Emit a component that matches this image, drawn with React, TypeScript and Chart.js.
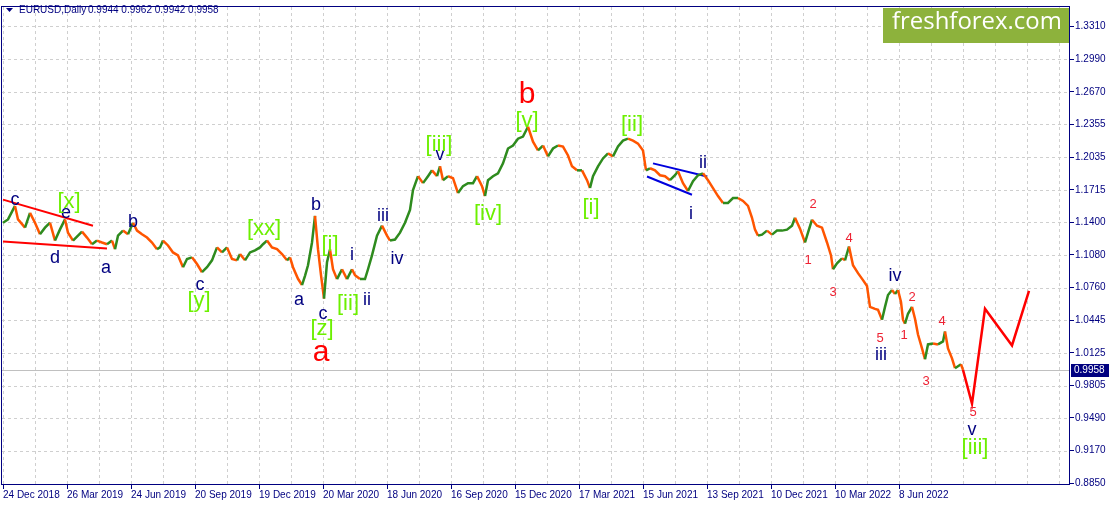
import React, { useEffect, useRef } from 'react';
import { Chart, registerables } from 'chart.js';

Chart.register(...registerables);

const NAVY = '#000080';
const UP = '#2e8b1e';
const DOWN = '#ff5500';
const LIME = '#6cf000';
const RED = '#ff0000';
const SMALLRED = '#ee2233';
const FONT = '"Liberation Sans", Arial, sans-serif';

// x axis: bar index (one daily bar each), date labels every 64 bars
const dateLabels = [
  '24 Dec 2018', '26 Mar 2019', '24 Jun 2019', '20 Sep 2019', '19 Dec 2019',
  '20 Mar 2020', '18 Jun 2020', '16 Sep 2020', '15 Dec 2020', '17 Mar 2021',
  '15 Jun 2021', '13 Sep 2021', '10 Dec 2021', '10 Mar 2022', '8 Jun 2022',
];
const priceTicks = [
  0.8850, 0.9170, 0.9490, 0.9805, 1.0125, 1.0445, 1.0760, 1.1080,
  1.1400, 1.1715, 1.2035, 1.2355, 1.2670, 1.2990, 1.3310,
];
const lastBarOHLC = [0.9944, 0.9962, 0.9942, 0.9958];

// EURUSD daily closes (sampled)
const barIdx = [
  0, 5, 12, 15, 22, 27, 32, 37, 42, 47, 52, 57, 62, 65, 70, 75, 79, 84, 89, 94,
  99, 104, 109, 112, 115, 120, 125, 130, 134, 139, 144, 149, 154, 157, 160, 165, 170, 175, 180, 184,
  189, 194, 199, 204, 209, 214, 219, 224, 229, 234, 237, 242, 247, 252, 257, 260, 264, 269, 274, 279,
  284, 287, 290, 295, 299, 302, 305, 309, 312, 315, 318, 321, 324, 327, 330, 334, 339, 344, 349, 352,
  357, 362, 365, 369, 374, 379, 384, 387, 392, 397, 402, 407, 410, 415, 420, 425, 429, 434, 437, 440,
  445, 450, 455, 460, 465, 470, 474, 479, 482, 485, 490, 495, 500, 505, 510, 515, 520, 525, 530, 535,
  540, 545, 550, 555, 560, 565, 569, 574, 579, 584, 587, 590, 595, 600, 605, 610, 615, 620, 625, 630,
  635, 640, 643, 647, 652, 657, 662, 667, 672, 675, 680, 685, 690, 695, 700, 705, 710, 715, 720, 725,
  730, 735, 740, 745, 749, 752, 755, 759, 764, 769, 774, 779, 784, 789, 792, 797, 802, 805, 809, 814,
  819, 824, 828, 830, 834, 839, 842, 846, 850, 855, 860, 864, 867, 872, 875, 879, 882, 885, 889, 892,
  895, 898, 900, 902, 905, 909, 912, 915, 919, 922, 925, 930, 935, 940, 942, 945, 949, 952, 955, 958,
  960,
];
const closes = [
  1.1394, 1.1426, 1.1558, 1.1426, 1.1346, 1.1490, 1.1394, 1.1281, 1.1346, 1.1394,
  1.1220, 1.1329, 1.1426, 1.1297, 1.1220, 1.1268, 1.1307, 1.1249, 1.1184, 1.1220,
  1.1201, 1.1184, 1.1220, 1.1136, 1.1268, 1.1317, 1.1281, 1.1394, 1.1317, 1.1281,
  1.1249, 1.1201, 1.1136, 1.1153, 1.1220, 1.1172, 1.1104, 1.1075, 1.0960, 1.1040,
  1.1056, 1.0991, 1.0911, 1.0960, 1.1027, 1.1153, 1.1104, 1.1153, 1.1040, 1.1027,
  1.1088, 1.1027, 1.1104, 1.1124, 1.1153, 1.1184, 1.1220, 1.1153, 1.1136, 1.1088,
  1.1027, 1.1056, 1.0960, 1.0847, 1.0786, 1.0876, 1.0979, 1.1201, 1.1461, 1.1136,
  1.0882, 1.0654, 1.1008, 1.1133, 1.0940, 1.0844, 1.0940, 1.0844, 1.0940, 1.0882,
  1.0844, 1.0844, 1.0940, 1.1075, 1.1268, 1.1365, 1.1268, 1.1220, 1.1230, 1.1297,
  1.1394, 1.1519, 1.1712, 1.1848, 1.1780, 1.1848, 1.1905, 1.1848, 1.1944, 1.1809,
  1.1848, 1.1828, 1.1683, 1.1751, 1.1780, 1.1780, 1.1848, 1.1751, 1.1654, 1.1809,
  1.1848, 1.1876, 1.1973, 1.2118, 1.2147, 1.2214, 1.2234, 1.2330, 1.2185, 1.2099,
  1.2147, 1.2041, 1.2118, 1.2147, 1.2137, 1.2050, 1.1944, 1.1905, 1.1905, 1.1809,
  1.1732, 1.1848, 1.1944, 1.2021, 1.2070, 1.2041, 1.2137, 1.2195, 1.2214, 1.2195,
  1.2166, 1.2099, 1.1905, 1.1925, 1.1905, 1.1857, 1.1848, 1.1809, 1.1857, 1.1896,
  1.1780, 1.1703, 1.1799, 1.1857, 1.1876, 1.1809, 1.1732, 1.1654, 1.1587, 1.1587,
  1.1635, 1.1635, 1.1606, 1.1558, 1.1442, 1.1326, 1.1268, 1.1278, 1.1317, 1.1278,
  1.1317, 1.1317, 1.1326, 1.1365, 1.1442, 1.1336, 1.1201, 1.1297, 1.1423, 1.1365,
  1.1346, 1.1201, 1.1075, 1.0940, 1.0998, 1.1047, 1.1027, 1.1162, 1.0979, 1.0902,
  1.0834, 1.0776, 1.0573, 1.0554, 1.0544, 1.0448, 1.0573, 1.0689, 1.0737, 1.0699,
  1.0737, 1.0622, 1.0448, 1.0409, 1.0506, 1.0573, 1.0457, 1.0303, 1.0168, 1.0062,
  1.0207, 1.0216, 1.0207, 1.0236, 1.0332, 1.0168, 1.0071, 0.9975, 0.9994, 1.0013,
  0.9958,
];

// forecast path
const forecastBars = [960, 969, 982, 1009, 1026];
const forecastPrices = [0.9958, 0.9628, 1.0554, 1.0197, 1.0728];

// trend lines
const redUpperBars = [0, 90];
const redUpperPrices = [1.1619, 1.1365];
const redLowerBars = [0, 104];
const redLowerPrices = [1.1210, 1.1143];
const blueUpperBars = [650, 704];
const blueUpperPrices = [1.1973, 1.1845];
const blueLowerBars = [644, 689];
const blueLowerPrices = [1.1845, 1.1667];

// wave labels
const navyText = ['c', 'e', 'd', 'a', 'b', 'c', 'a', 'b', 'c', 'i', 'ii', 'iii', 'iv', 'v', 'ii', 'i', 'iv', 'iii', 'v'];
const navyBar = [12, 63, 52, 103, 130, 197, 296, 313, 320, 349, 364, 380, 394, 437, 700, 688, 892, 878, 969];
const navyPrice = [1.1616, 1.1490, 1.1046, 1.0950, 1.1404, 1.0786, 1.0641, 1.1568, 1.0506, 1.1075, 1.0641, 1.1461, 1.1037, 1.2050, 1.1973, 1.1481, 1.0873, 1.0100, 0.9367];

const limeText = ['[x]', '[y]', '[xx]', '[z]', '[i]', '[ii]', '[iii]', '[iv]', '[v]', '[i]', '[ii]', '[iii]'];
const limeBar = [66, 196, 261, 319, 327, 345, 436, 485, 524, 588, 629, 972];
const limePrice = [1.1597, 1.0631, 1.1336, 1.0361, 1.1182, 1.0602, 1.2156, 1.1481, 1.2388, 1.1539, 1.2350, 0.9193];

const bigText = ['a', 'b'];
const bigBar = [318, 524];
const bigPrice = [1.0129, 1.2639];

const numText = ['1', '2', '3', '4', '5', '1', '2', '3', '4', '5'];
const numBar = [805, 810, 830, 846, 877, 901, 909, 923, 939, 970];
const numPrice = [1.1027, 1.1577, 1.0718, 1.1239, 1.0264, 1.0293, 1.0670, 0.9849, 1.0429, 0.9540];

const Y_MIN = 0.88355;
const Y_MAX = 1.34982;
const X_MIN = -1;
const X_MAX = 1067;

const gridBars: number[] = [];
for (let b = 0; b <= X_MAX; b += 32) gridBars.push(b);

const pts = (xs: number[], ys: number[]) => xs.map((x, i) => ({ x, y: ys[i] }));

const overlay = {
  id: 'overlay',
  beforeDatasetsDraw(chart: any) {
    const { ctx, chartArea: a, scales } = chart;
    const x = scales.x;
    const y = scales.y;
    ctx.save();
    ctx.strokeStyle = '#cfcfcf';
    ctx.lineWidth = 1;
    ctx.setLineDash([3, 3]);
    gridBars.forEach((b) => {
      const px = Math.round(x.getPixelForValue(b)) + 0.5;
      ctx.beginPath();
      ctx.moveTo(px, a.top);
      ctx.lineTo(px, a.bottom);
      ctx.stroke();
    });
    priceTicks.forEach((p) => {
      const py = Math.round(y.getPixelForValue(p)) + 0.5;
      ctx.beginPath();
      ctx.moveTo(a.left, py);
      ctx.lineTo(a.right, py);
      ctx.stroke();
    });
    ctx.setLineDash([]);
    const cp = Math.round(y.getPixelForValue(lastBarOHLC[3])) + 0.5;
    ctx.strokeStyle = '#c0c0c0';
    ctx.beginPath();
    ctx.moveTo(a.left, cp);
    ctx.lineTo(a.right, cp);
    ctx.stroke();
    ctx.restore();
  },
  afterDatasetsDraw(chart: any) {
    const { ctx, scales } = chart;
    const x = scales.x;
    const y = scales.y;
    const draw = (texts: string[], bars: number[], prices: number[], color: string, size: number) => {
      ctx.save();
      ctx.fillStyle = color;
      ctx.font = `${size}px ${FONT}`;
      ctx.textAlign = 'center';
      ctx.textBaseline = 'middle';
      texts.forEach((t, i) => {
        ctx.fillText(t, x.getPixelForValue(bars[i]), y.getPixelForValue(prices[i]));
      });
      ctx.restore();
    };
    draw(navyText, navyBar, navyPrice, NAVY, 18);
    draw(limeText, limeBar, limePrice, LIME, 22);
    draw(bigText, bigBar, bigPrice, RED, 30);
    draw(numText, numBar, numPrice, SMALLRED, 13);
  },
  afterDraw(chart: any) {
    const { ctx, chartArea: a, scales } = chart;
    const y = scales.y;
    ctx.save();
    // frame
    ctx.strokeStyle = NAVY;
    ctx.lineWidth = 1;
    ctx.strokeRect(a.left - 0.5, a.top - 0.5, a.right - a.left, a.bottom - a.top);
    // current price box
    const cp = Math.round(y.getPixelForValue(lastBarOHLC[3]));
    ctx.fillStyle = NAVY;
    ctx.fillRect(a.right + 1, cp - 6, 38, 13);
    ctx.fillStyle = '#ffffff';
    ctx.font = `10px ${FONT}`;
    ctx.textAlign = 'left';
    ctx.textBaseline = 'middle';
    ctx.fillText(lastBarOHLC[3].toFixed(4), a.right + 4, cp + 0.5);
    // header
    ctx.fillStyle = NAVY;
    ctx.beginPath();
    ctx.moveTo(6, 8);
    ctx.lineTo(13, 8);
    ctx.lineTo(9.5, 12);
    ctx.closePath();
    ctx.fill();
    ctx.font = `10px ${FONT}`;
    ctx.textBaseline = 'middle';
    ctx.fillText('EURUSD,Daily', 19, 10);
    ctx.fillText(lastBarOHLC.map((v) => v.toFixed(4)).join(' '), 88, 10);
    // logo
    const lx = 883;
    ctx.fillStyle = '#8db23c';
    ctx.fillRect(lx, a.top + 1, a.right - 1 - lx, 35);
    ctx.fillStyle = '#ffffff';
    let fs = 26;
    ctx.font = `${fs}px "Open Sans", ${FONT}`;
    const w = ctx.measureText('freshforex.com').width;
    fs = fs * 170 / w;
    ctx.font = `${fs}px "Open Sans", ${FONT}`;
    ctx.textBaseline = 'alphabetic';
    ctx.fillText('freshforex.com', lx + 9, 29);
    ctx.restore();
  },
};

export default function App() {
  const ref = useRef<HTMLCanvasElement | null>(null);
  useEffect(() => {
    document.body.style.margin = '0';
    const canvas = ref.current;
    if (!canvas) return;
    const chart = new Chart(canvas, {
      type: 'line',
      data: {
        datasets: [
          {
            label: 'EURUSD',
            data: pts(barIdx, closes),
            borderColor: DOWN,
            borderWidth: 2.5,
            pointRadius: 0,
            tension: 0,
            segment: {
              borderColor: (c: any) => (c.p1.parsed.y >= c.p0.parsed.y ? UP : DOWN),
            },
          },
          {
            label: 'forecast',
            data: pts(forecastBars, forecastPrices),
            borderColor: RED,
            borderWidth: 2.5,
            pointRadius: 0,
          },
          {
            label: 'red upper',
            data: pts(redUpperBars, redUpperPrices),
            borderColor: RED,
            borderWidth: 2,
            pointRadius: 0,
          },
          {
            label: 'red lower',
            data: pts(redLowerBars, redLowerPrices),
            borderColor: RED,
            borderWidth: 2,
            pointRadius: 0,
          },
          {
            label: 'blue upper',
            data: pts(blueUpperBars, blueUpperPrices),
            borderColor: '#0000dd',
            borderWidth: 2,
            pointRadius: 0,
          },
          {
            label: 'blue lower',
            data: pts(blueLowerBars, blueLowerPrices),
            borderColor: '#0000dd',
            borderWidth: 2,
            pointRadius: 0,
          },
        ],
      },
      options: {
        animation: false,
        responsive: false,
        devicePixelRatio: 1,
        layout: { padding: { left: 2, top: 2, right: 0, bottom: 0 } },
        plugins: { legend: { display: false }, tooltip: { enabled: false } },
        scales: {
          x: {
            type: 'linear',
            min: X_MIN,
            max: X_MAX,
            afterBuildTicks: (s: any) => {
              s.ticks = gridBars.map((v) => ({ value: v }));
            },
            afterFit: (s: any) => {
              s.height = 22;
            },
            ticks: {
              autoSkip: false,
              maxRotation: 0,
              minRotation: 0,
              align: 'start',
              padding: 0,
              color: NAVY,
              font: { family: FONT, size: 10 },
              callback: (v: any) => {
                const k = Number(v) / 64;
                return Number.isInteger(k) && k < dateLabels.length ? dateLabels[k] : '';
              },
            },
            grid: {
              drawOnChartArea: false,
              drawTicks: true,
              tickLength: 4,
              tickWidth: 1,
              tickColor: (c: any) => {
                const v = c.tick ? c.tick.value : 0;
                const k = v / 64;
                return Number.isInteger(k) && k < dateLabels.length ? NAVY : 'rgba(0,0,0,0)';
              },
            },
            border: { display: false },
          },
          y: {
            type: 'linear',
            position: 'right',
            min: Y_MIN,
            max: Y_MAX,
            afterBuildTicks: (s: any) => {
              s.ticks = priceTicks.map((v) => ({ value: v }));
            },
            afterFit: (s: any) => {
              s.width = 41;
            },
            ticks: {
              color: NAVY,
              padding: 1,
              font: { family: FONT, size: 10 },
              callback: (v: any) => Number(v).toFixed(4),
            },
            grid: {
              drawOnChartArea: false,
              drawTicks: true,
              tickLength: 4,
              tickWidth: 1,
              tickColor: NAVY,
            },
            border: { display: false },
          },
        },
      },
      plugins: [overlay],
    } as any);
    return () => chart.destroy();
  }, []);
  return <canvas ref={ref} width={1111} height={507} style={{ display: 'block' }} />;
}
